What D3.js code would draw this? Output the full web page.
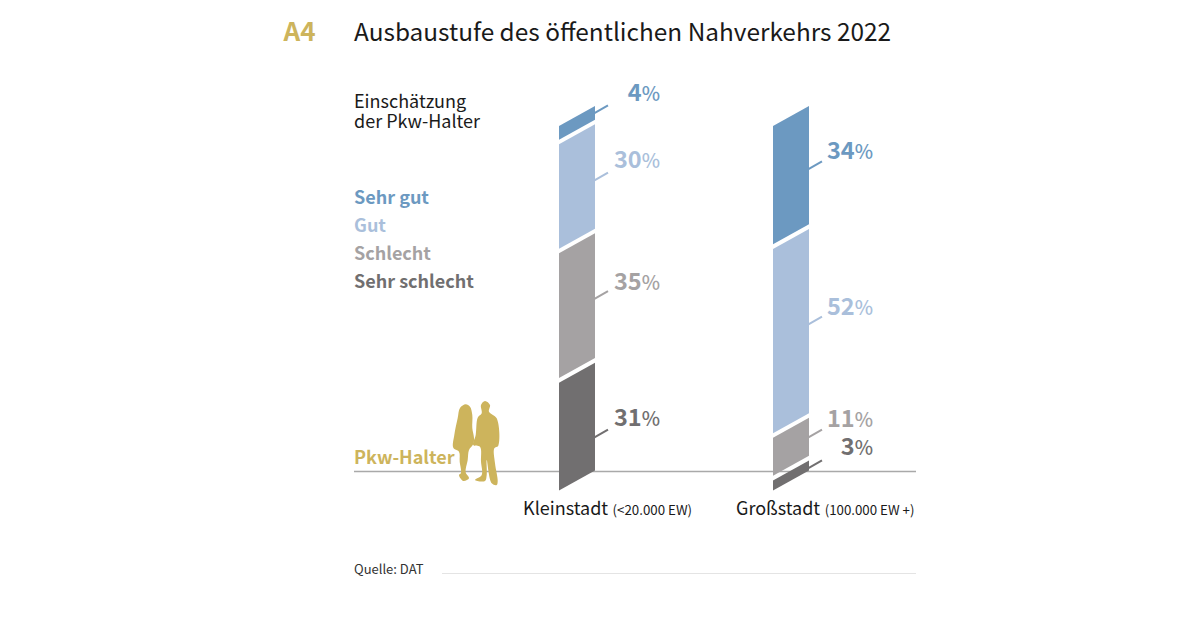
<!DOCTYPE html>
<html><head><meta charset="utf-8">
<script src="https://cdn.jsdelivr.net/npm/d3@7"></script>
<style>html,body{margin:0;background:#fff}svg{display:block}text{font-family:"Noto Sans CJK SC","Noto Sans",sans-serif}</style>
</head><body><svg id="c" width="1200" height="618"></svg>
<script>
const categories=["Kleinstadt","Großstadt"];
const categoryNotes=["(<20.000 EW)","(100.000 EW +)"];
const ratings=["Sehr gut","Gut","Schlecht","Sehr schlecht"];
const colors=["#6c99c1","#aabfdb","#a5a2a3","#716f70"];
const kleinstadt=[4,30,35,31];
const grossstadt=[34,52,11,3];
// segment heights as measured in the picture (printed labels are rounded)
const kleinstadtBar=[4.4,29.9,35.5,30.2];
const grossstadtBar=[33.1,51.8,11.7,3.4];
const title="Ausbaustufe des öffentlichen Nahverkehrs 2022";
const series=[kleinstadt,grossstadt];
const barSeries=[kleinstadtBar,grossstadtBar];

const svg=d3.select("#c");
const x=d3.scalePoint().domain(categories).range([559,773]);
const y=d3.scaleLinear().domain([0,100]).range([126,490.5]);
const barW=36, skew=20, gap=4.6;
const leaderAt=[[2,20.5,53,91],[17.4,60,91,99.4]];
const labelY=[[100.5,167.5,289.5,425.5],[158.5,314.5,426.5,454.5]];
const labelEnd=[660,873];
const gold="#cdb45c";

svg.append("text").attr("x",283.5).attr("y",41).attr("font-size",26).attr("font-weight",700).attr("fill",gold).text("A4");
svg.append("text").attr("x",354).attr("y",41).attr("font-size",24.4).attr("fill","#1a1a1a").text(title);
svg.append("text").attr("x",354).attr("y",108).attr("font-size",18).attr("fill","#1a1a1a").text("Einschätzung");
svg.append("text").attr("x",354).attr("y",127.5).attr("font-size",18).attr("fill","#1a1a1a").text("der Pkw-Halter");
svg.selectAll(".leg").data(ratings).join("text").attr("x",354).attr("y",(d,i)=>204+i*28)
  .attr("font-size",18).attr("font-weight",700).attr("fill",(d,i)=>colors[i]).text(d=>d);

svg.append("line").attr("x1",354).attr("x2",916).attr("y1",471.5).attr("y2",471.5).attr("stroke","#a9a9a9").attr("stroke-width",1.5);

series.forEach((vals,s)=>{
  const x0=x(categories[s]);
  let cum=0;
  vals.forEach((v,i)=>{
    const h=barSeries[s][i];
    const t=y(cum)+(i?gap/2:0), b=y(cum+h)-(i<3?gap/2:0);
    cum+=h;
    svg.append("polygon").attr("fill",colors[i])
      .attr("points",[[x0,t],[x0+barW,t-skew],[x0+barW,b-skew],[x0,b]].join(" "));
    const ly=y(leaderAt[s][i])-skew;
    svg.append("line").attr("x1",x0+barW-1).attr("y1",ly).attr("x2",x0+barW+13).attr("y2",ly-8)
      .attr("stroke",colors[i]).attr("stroke-width",2);
    const t2=svg.append("text").attr("x",labelEnd[s]).attr("y",labelY[s][i]).attr("text-anchor","end").attr("fill",colors[i]);
    t2.append("tspan").attr("font-size",23.5).attr("font-weight",700).text(v);
    t2.append("tspan").attr("font-size",19.5).attr("font-weight",500).text("%");
  });
  const lab=svg.append("text").attr("x",s?736:523).attr("y",515).attr("fill","#1a1a1a");
  lab.append("tspan").attr("font-size",18).text(categories[s]);
  lab.append("tspan").attr("font-size",13.3).attr("dx",4.5).text(categoryNotes[s]);
});

svg.append("text").attr("x",354).attr("y",574).attr("font-size",13).attr("fill","#333").text("Quelle: DAT");
svg.append("line").attr("x1",442).attr("x2",916).attr("y1",573.5).attr("y2",573.5).attr("stroke","#e4e4e4");

svg.append("text").attr("x",354).attr("y",463.5).attr("font-size",18).attr("font-weight",700).attr("fill",gold).text("Pkw-Halter");
// Silhouettes
const g=svg.append("g").attr("fill",gold);
const curve=d3.line().curve(d3.curveCatmullRomClosed.alpha(0.5));
g.append("path").attr("d",curve([[465.7,404.3],[460,408],[457.7,418],[454.3,435],[453.3,447.7],[459,451.7],[459.7,461.7],[461,473],[459,475],[463.3,481],[469,478.3],[465.7,472.3],[467.7,460],[469,450],[473.3,444],[474,438],[472.3,428],[472.3,415],[470,406.7]]));
g.append("path").attr("d",curve([[485,401],[481,405],[481.7,413.3],[477.7,417.7],[475.7,435],[473.3,445],[480,446.7],[481,461.7],[481.7,475],[475,480],[485,481],[486.7,475],[486.7,460],[491.7,483.3],[496.7,485],[497.7,481],[495,463.3],[494.3,448.3],[498.3,445.7],[496.7,418.3],[489,411.7],[490,405]]));
</script></body></html>
